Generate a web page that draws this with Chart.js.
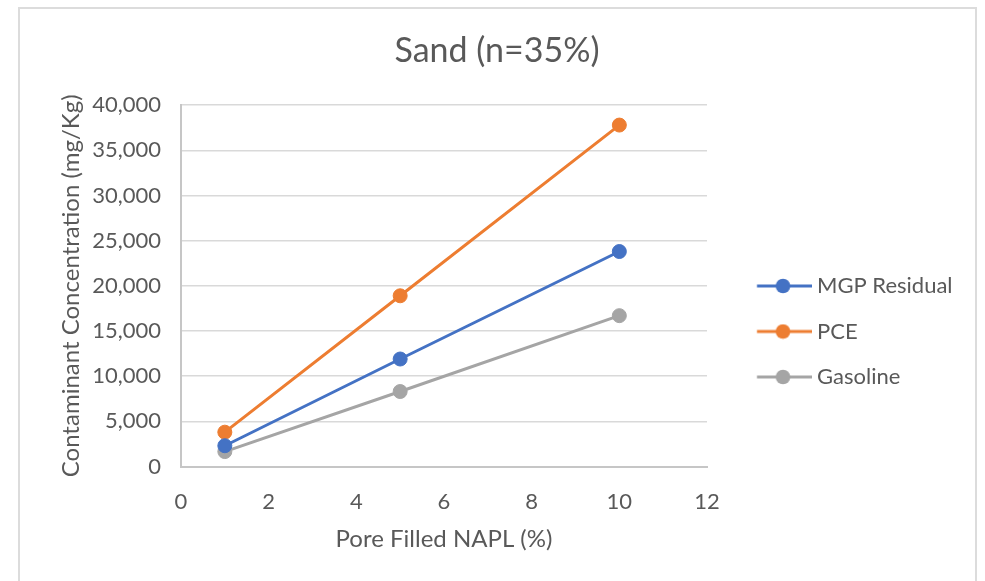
<!DOCTYPE html>
<html><head><meta charset="utf-8">
<script src="https://cdn.jsdelivr.net/npm/chart.js@4.4.0/dist/chart.umd.min.js"></script>
<style>
html,body{margin:0;padding:0;background:#fff;}
#wrap{position:relative;width:985px;height:581px;overflow:hidden;background:#fff;}
#frame{position:absolute;left:18px;top:7px;width:955px;height:640px;border:2px solid #dcdcdc;}
#c{position:absolute;left:0;top:0;}
</style></head><body>
<div id="wrap"><div id="frame"></div><canvas id="c" width="985" height="581"></canvas></div>
<script>
// ---- data ----
const chartTitle = 'Sand (n=35%)';
const xAxisTitle = 'Pore Filled NAPL (%)';
const yAxisTitle = 'Contaminant Concentration (mg/Kg)';
const xValues = [1, 5, 10];
const seriesNames = ['MGP Residual', 'PCE', 'Gasoline'];
const mgpResidual = [2300, 11900, 23800];
const pce = [3800, 18900, 37800];
const gasoline = [1650, 8300, 16700];
const xTickValues = [0, 2, 4, 6, 8, 10, 12];
const yTickValues = [0, 5000, 10000, 15000, 20000, 25000, 30000, 35000, 40000];
const seriesColors = ['#4472C4', '#ED7D31', '#A5A5A5'];

const textColor = '#595959';
const FONT = 'Lato';

function legendIcon(color) {
  const cv = document.createElement('canvas');
  cv.width = 87; cv.height = 16;
  const g = cv.getContext('2d');
  g.strokeStyle = color; g.lineWidth = 3;
  g.beginPath(); g.moveTo(32.25, 8); g.lineTo(87, 8); g.stroke();
  g.fillStyle = color;
  g.beginPath(); g.arc(58.25, 8, 7.3, 0, Math.PI * 2); g.fill();
  return cv;
}

function build() {
  const allSeries = [mgpResidual, pce, gasoline];
  const icons = seriesColors.map(legendIcon);

  // layout: legend natural width -> right padding so that plot ends at x=707
  const legFont = 22, legPad = 23.5, legBox = 75.5;
  const mctx = document.createElement('canvas').getContext('2d');
  mctx.font = 'normal ' + legFont + 'px ' + FONT;
  const textW = Math.max(...seriesNames.map(n => mctx.measureText(n).width));
  const legendW = legPad + legBox + legFont / 2 + textW + 10;
  const padRight = 985 - 707 - legendW;
  const padLeft = 9 + padRight;           // centres the chart title at x≈497
  const yAxisWidth = 181 - padLeft;
  const yTitlePad = 71 - 14.4 - padLeft;

  const datasets = allSeries.map((vals, i) => ({
    label: seriesNames[i],
    data: xValues.map((x, j) => ({ x: x, y: vals[j] })),
    borderColor: seriesColors[i],
    backgroundColor: seriesColors[i],
    borderWidth: 3,
    pointRadius: 7,
    pointBorderWidth: 1,
    pointHoverRadius: 7,
    showLine: true,
    tension: 0
  }));

  new Chart(document.getElementById('c'), {
    type: 'scatter',
    data: { datasets },
    options: {
      responsive: false,
      animation: false,
      devicePixelRatio: 1,
      layout: { padding: { left: padLeft, top: 8, right: padRight, bottom: 0 } },
      plugins: {
        tooltip: { enabled: false },
        title: {
          display: true,
          text: chartTitle,
          color: textColor,
          font: { family: FONT, size: 34, weight: 'normal' },
          padding: { top: 22.2, bottom: 34.2 }
        },
        legend: {
          position: 'right',
          align: 'start',
          maxWidth: legendW + 0.5,
          title: { display: true, text: ' ', font: { size: 10, lineHeight: 1 }, padding: { top: 233.5, bottom: 0 } },
          labels: {
            usePointStyle: true,
            pointStyleWidth: legBox,
            padding: legPad,
            color: textColor,
            font: { family: FONT, size: legFont },
            generateLabels: (chart) => {
              const items = Chart.defaults.plugins.legend.labels.generateLabels(chart);
              items.forEach((it, i) => { it.pointStyle = icons[i]; });
              return items;
            }
          }
        }
      },
      scales: {
        x: {
          type: 'linear',
          min: xTickValues[0],
          max: xTickValues[xTickValues.length - 1],
          afterBuildTicks: (s) => { s.ticks = xTickValues.map(v => ({ value: v })); },
          grid: { display: false, drawTicks: false },
          border: { display: true, color: '#c6c6c6', width: 2 },
          ticks: { color: textColor, font: { family: FONT, size: 22 }, padding: 22, maxRotation: 0 },
          title: { display: true, text: xAxisTitle, color: textColor, font: { family: FONT, size: 24 }, padding: { top: 0, bottom: 27.6 } },
          afterFit: (s) => { s.height = 114.5; }
        },
        y: {
          type: 'linear',
          min: yTickValues[0],
          max: yTickValues[yTickValues.length - 1],
          afterBuildTicks: (s) => { s.ticks = yTickValues.map(v => ({ value: v })); },
          grid: { color: '#d9d9d9', lineWidth: 1.5, drawTicks: false },
          border: { display: true, color: '#c6c6c6', width: 2 },
          ticks: { color: textColor, font: { family: FONT, size: 22 }, padding: 20,
                   callback: (v) => Number(v).toLocaleString('en-US') },
          title: { display: true, text: yAxisTitle, color: textColor, font: { family: FONT, size: 24 }, padding: { top: yTitlePad, bottom: 0 } },
          afterFit: (s) => { s.width = yAxisWidth; }
        }
      }
    }
  });
}

(document.fonts && document.fonts.load ? Promise.all([document.fonts.load('22px Lato'), document.fonts.load('34px Lato')]) : Promise.resolve())
  .then(build, build);
</script>
</body></html>
